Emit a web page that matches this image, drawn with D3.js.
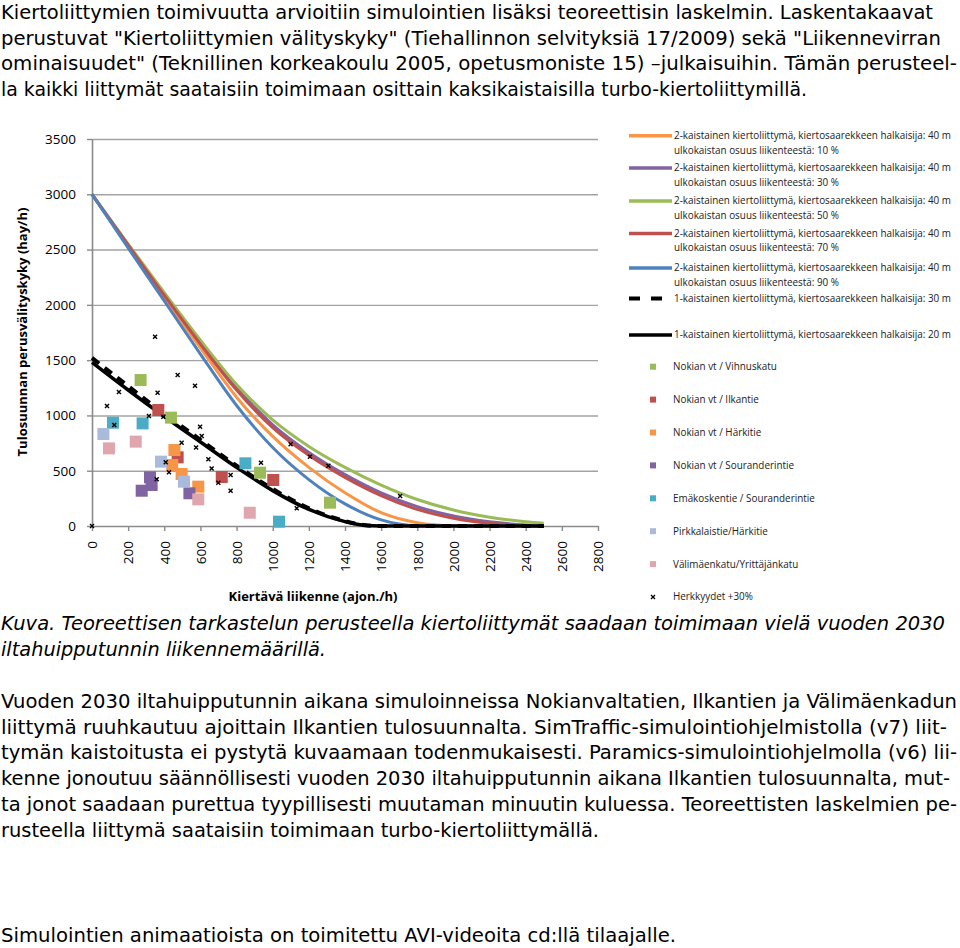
<!DOCTYPE html>
<html>
<head>
<meta charset="utf-8">
<script src="https://cdn.jsdelivr.net/npm/d3@7"></script>
<style>
  body { margin: 0; background: #fff; }
  svg { display: block; }
</style>
</head>
<body>
<svg id="chart" width="960" height="948"></svg>
<script>
// ---- data ----
const flowX  = [0, 200, 400, 600, 800, 1000, 1200, 1400, 1600, 1800, 2000, 2200, 2400, 2500];
const cap10  = [3000, 2530, 2065, 1610, 1165, 810, 530, 300, 120, 30, 3, 0, 0, 0];
const cap30  = [3000, 2545, 2095, 1660, 1250, 915, 665, 465, 300, 175, 90, 38, 10, 4];
const cap50  = [3000, 2550, 2110, 1680, 1280, 960, 720, 530, 370, 240, 145, 80, 38, 24];
const cap70  = [3000, 2540, 2085, 1645, 1230, 890, 640, 440, 275, 150, 70, 25, 5, 0];
const cap90  = [3000, 2515, 2035, 1555, 1090, 710, 420, 200, 55, 3, 0, 0, 0, 0];

const oneLaneX = [0, 200, 400, 600, 800, 1000, 1200, 1400, 1500, 1600, 1800, 2000, 2200, 2400, 2500];
const cap1L30  = [1520, 1265, 1015, 780, 545, 335, 160, 45, 10, 0, 0, 0, 0, 0, 0];
const cap1L20  = [1480, 1230, 990, 760, 530, 320, 150, 40, 8, 0, 0, 0, 0, 0, 0];

const vihnuskatu     = [[269, 1320], [437, 980], [930, 482], [1317, 211]];
const ilkantie       = [[367, 1049], [474, 621], [718, 443], [1003, 416]];
const harkitie       = [[456, 687], [444, 552], [496, 470], [588, 356]];
const souranderintie = [[321, 440], [330, 371], [275, 319], [539, 296]];
const emakoskentie   = [[116, 934], [280, 928], [849, 567], [1035, 39]];
const pirkkalaistie  = [[63, 832], [382, 582], [509, 401]];
const valimaenkatu   = [[94, 702], [242, 763], [588, 241], [873, 120]];
const herkkyydet = [[0, 0], [83, 1085], [123, 913], [149, 1212], [315, 995], [349, 1712], [363, 1206],
  [358, 422], [395, 988], [408, 576], [426, 486], [474, 1366], [496, 753], [570, 1269], [576, 711],
  [598, 898], [607, 814], [644, 603], [662, 521], [699, 392], [767, 461], [767, 319], [935, 573],
  [1099, 739], [1133, 160], [1206, 627], [1308, 545], [1705, 271]];

const xTicks = [0, 200, 400, 600, 800, 1000, 1200, 1400, 1600, 1800, 2000, 2200, 2400, 2600, 2800];
const yTicks = [0, 500, 1000, 1500, 2000, 2500, 3000, 3500];

const lineLabels = [
  ['2-kaistainen kiertoliittymä,  kiertosaarekkeen halkaisija: 40 m', 'ulkokaistan osuus liikenteestä: 10 %'],
  ['2-kaistainen kiertoliittymä,  kiertosaarekkeen halkaisija: 40 m', 'ulkokaistan osuus liikenteestä: 30 %'],
  ['2-kaistainen kiertoliittymä,  kiertosaarekkeen halkaisija: 40 m', 'ulkokaistan osuus liikenteestä: 50 %'],
  ['2-kaistainen kiertoliittymä,  kiertosaarekkeen halkaisija: 40 m', 'ulkokaistan osuus liikenteestä: 70 %'],
  ['2-kaistainen kiertoliittymä,  kiertosaarekkeen halkaisija: 40 m', 'ulkokaistan osuus liikenteestä: 90 %'],
  ['1-kaistainen kiertoliittymä,  kiertosaarekkeen halkaisija: 30 m'],
  ['1-kaistainen kiertoliittymä,  kiertosaarekkeen halkaisija: 20 m'],
];
const pointLabels = ['Nokian vt / Vihnuskatu', 'Nokian vt / Ilkantie', 'Nokian vt / Härkitie',
  'Nokian vt / Souranderintie', 'Emäkoskentie / Souranderintie', 'Pirkkalaistie/Härkitie',
  'Välimäenkatu/Yrittäjänkatu', 'Herkkyydet +30%'];

const introLines = [
  'Kiertoliittymien toimivuutta arvioitiin simulointien lisäksi teoreettisin laskelmin. Laskentakaavat',
  'perustuvat "Kiertoliittymien välityskyky" (Tiehallinnon selvityksiä 17/2009) sekä "Liikennevirran',
  'ominaisuudet" (Teknillinen korkeakoulu 2005, opetusmoniste 15) \u2013julkaisuihin. Tämän perusteel-',
  'la kaikki liittymät saataisiin toimimaan osittain kaksikaistaisilla turbo-kiertoliittymillä.',
];
const captionLines = [
  'Kuva. Teoreettisen tarkastelun perusteella kiertoliittymät saadaan toimimaan vielä vuoden 2030',
  'iltahuipputunnin liikennemäärillä.',
];
const bodyLines = [
  'Vuoden 2030 iltahuipputunnin aikana simuloinneissa Nokianvaltatien, Ilkantien ja Välimäenkadun',
  'liittymä ruuhkautuu ajoittain Ilkantien tulosuunnalta. SimTraffic-simulointiohjelmistolla (v7) liit-',
  'tymän kaistoitusta ei pystytä kuvaamaan todenmukaisesti. Paramics-simulointiohjelmolla (v6) lii-',
  'kenne jonoutuu säännöllisesti vuoden 2030 iltahuipputunnin aikana Ilkantien tulosuunnalta, mut-',
  'ta jonot saadaan purettua tyypillisesti muutaman minuutin kuluessa. Teoreettisten laskelmien pe-',
  'rusteella liittymä saataisiin toimimaan turbo-kiertoliittymällä.',
];
const closingLine = 'Simulointien animaatioista on toimitettu AVI-videoita cd:llä tilaajalle.';

// ---- layout ----
const svg = d3.select('#chart');
const plot = {l: 92, r: 598, t: 139, b: 526};

const xScale = d3.scaleLinear().domain([0, 2800]).range([plot.l, plot.r]);
const yScale = d3.scaleLinear().domain([0, 3500]).range([plot.b, plot.t]);

// text helper: squeeze a line to a given width
function textLine(str, x, y, width, cls) {
    const t = svg.append('text')
        .attr('x', x).attr('y', y)
        .attr('class', cls)
        .text(str);
    if (width) t.attr('textLength', width).attr('lengthAdjust', 'spacingAndGlyphs');
    return t;
}

const paraFont = '"DejaVu Sans", Verdana, sans-serif';
svg.append('style').text(`
  .para { font-family: ${paraFont}; font-size: 19px; fill: #000; }
  .cap  { font-family: ${paraFont}; font-size: 19px; font-style: italic; fill: #000; }
  .lg   { font-family: "Open Sans", sans-serif; font-size: 9.9px; fill: #222; }
  .tick text { font-family: "Open Sans", sans-serif; font-size: 13.5px; fill: #000; }
  .ttl  { font-family: "Open Sans", sans-serif; font-size: 13px; font-weight: bold; fill: #000; }
`);

const introW = [932, 940, 956, 806];
introLines.forEach((s, i) => textLine(s, 1, 19 + i * 25.5, introW[i], 'para'));

const captionW = [944, 325];
captionLines.forEach((s, i) => textLine(s, 1, 630 + i * 26, captionW[i], 'cap'));

const bodyW = [956, 946, 956, 949, 956, 598];
bodyLines.forEach((s, i) => textLine(s, 1, 708 + i * 25.7, bodyW[i], 'para'));

textLine(closingLine, 1, 942, 675, 'para');

// ---- grid and axes ----
svg.append('g')
    .attr('transform', `translate(${plot.l},0)`)
    .call(d3.axisLeft(yScale).tickValues(yTicks.slice(1)).tickSize(-(plot.r - plot.l)).tickFormat(''))
    .call(g => g.select('.domain').remove())
    .call(g => g.selectAll('line').attr('stroke', '#a3a3a3').attr('stroke-width', 1.4));

svg.append('g')
    .attr('class', 'y axis')
    .attr('transform', `translate(${plot.l},0)`)
    .call(d3.axisLeft(yScale).tickValues(yTicks).tickFormat(d3.format('d'))
        .tickSize(5).tickSizeOuter(0).tickPadding(11))
    .call(g => g.select('.domain').attr('stroke', '#8a8a8a').attr('stroke-width', 1.6))
    .call(g => g.selectAll('line').attr('stroke', '#8a8a8a').attr('stroke-width', 1.4));

svg.append('g')
    .attr('class', 'x axis')
    .attr('transform', `translate(0,${plot.b})`)
    .call(d3.axisBottom(xScale).tickValues(xTicks).tickFormat(d3.format('d'))
        .tickSize(5).tickSizeOuter(0))
    .call(g => g.select('.domain').attr('stroke', '#8a8a8a').attr('stroke-width', 1.6))
    .call(g => g.selectAll('line').attr('stroke', '#8a8a8a').attr('stroke-width', 1.4))
    .call(g => g.selectAll('text')
        .attr('transform', 'rotate(-90)')
        .attr('x', -15).attr('y', 0).attr('dy', '0.35em')
        .attr('text-anchor', 'end'));

svg.append('text')
    .attr('class', 'ttl')
    .attr('transform', 'translate(22,332) rotate(-90)')
    .attr('text-anchor', 'middle')
    .attr('dy', '0.35em')
    .text('Tulosuunnan perusvälityskyky (hay/h)');

svg.append('text')
    .attr('class', 'ttl')
    .attr('x', 313).attr('y', 596)
    .attr('text-anchor', 'middle')
    .attr('dy', '0.35em')
    .text('Kiertävä liikenne (ajon./h)');

// ---- curves ----
const line = d3.line()
    .x(d => xScale(d[0]))
    .y(d => yScale(d[1]))
    .curve(d3.curveMonotoneX);

const curves = [
    {xs: flowX, ys: cap10, color: '#f79646', w: 3, dash: null},
    {xs: flowX, ys: cap30, color: '#8064a2', w: 3, dash: null},
    {xs: flowX, ys: cap50, color: '#9bbb59', w: 3, dash: null},
    {xs: flowX, ys: cap70, color: '#c0504d', w: 3, dash: null},
    {xs: flowX, ys: cap90, color: '#4f81bd', w: 3, dash: null},
    {xs: oneLaneX, ys: cap1L30, color: '#000', w: 4, dash: '9,7'},
    {xs: oneLaneX, ys: cap1L20, color: '#000', w: 3.5, dash: null},
];

curves.forEach(c => {
    svg.append('path')
        .attr('d', line(c.xs.map((v, i) => [v, c.ys[i]])))
        .attr('fill', 'none')
        .attr('stroke', c.color)
        .attr('stroke-width', c.w)
        .attr('stroke-dasharray', c.dash)
        .attr('stroke-linejoin', 'round');
});

// ---- points ----
const pointSeries = [
    {data: vihnuskatu, color: '#9bbb59'},
    {data: ilkantie, color: '#c0504d'},
    {data: harkitie, color: '#f79646'},
    {data: souranderintie, color: '#8064a2'},
    {data: emakoskentie, color: '#4bacc6'},
    {data: pirkkalaistie, color: '#a9badb'},
    {data: valimaenkatu, color: '#e0a6ae'},
];
const sq = 12;
pointSeries.forEach(s => {
    svg.append('g').selectAll('rect')
        .data(s.data)
        .join('rect')
        .attr('x', d => xScale(d[0]) - sq / 2)
        .attr('y', d => yScale(d[1]) - sq / 2)
        .attr('width', sq).attr('height', sq)
        .attr('fill', s.color);
});

const cross = 'M-2,-2L2,2M-2,2L2,-2';
svg.append('g').selectAll('path')
    .data(herkkyydet)
    .join('path')
    .attr('transform', d => `translate(${xScale(d[0])},${yScale(d[1])})`)
    .attr('d', cross)
    .attr('stroke', '#000')
    .attr('stroke-width', 1.4);

// ---- legend ----
function legendText(str, x, y) {
    textLine(str, x, y, null, 'lg').attr('dy', '0.35em');
}

const lineRowY = [135.7, 168, 201, 233.5, 268, 298.5, 335];
curves.forEach((c, i) => {
    const yy = lineRowY[i];
    svg.append('line')
        .attr('x1', 629).attr('x2', c.dash ? 663 : 672)
        .attr('y1', yy).attr('y2', yy)
        .attr('stroke', c.color)
        .attr('stroke-width', c.dash ? 4 : 3.5)
        .attr('stroke-dasharray', c.dash ? '11,11' : null);
    lineLabels[i].forEach((s, k) => legendText(s, 674, yy + k * 14.5));
});

const pointRowY = d3.range(pointLabels.length).map(i => 366.7 + i * 32.9);
pointSeries.forEach((s, i) => {
    svg.append('rect')
        .attr('x', 650).attr('y', pointRowY[i] - 3)
        .attr('width', 6).attr('height', 6)
        .attr('fill', s.color);
});
svg.append('path')
    .attr('transform', `translate(653,${pointRowY[7]})`)
    .attr('d', cross)
    .attr('stroke', '#000')
    .attr('stroke-width', 1.3);
pointLabels.forEach((s, i) => legendText(s, 673, pointRowY[i]));
</script>
</body>
</html>
